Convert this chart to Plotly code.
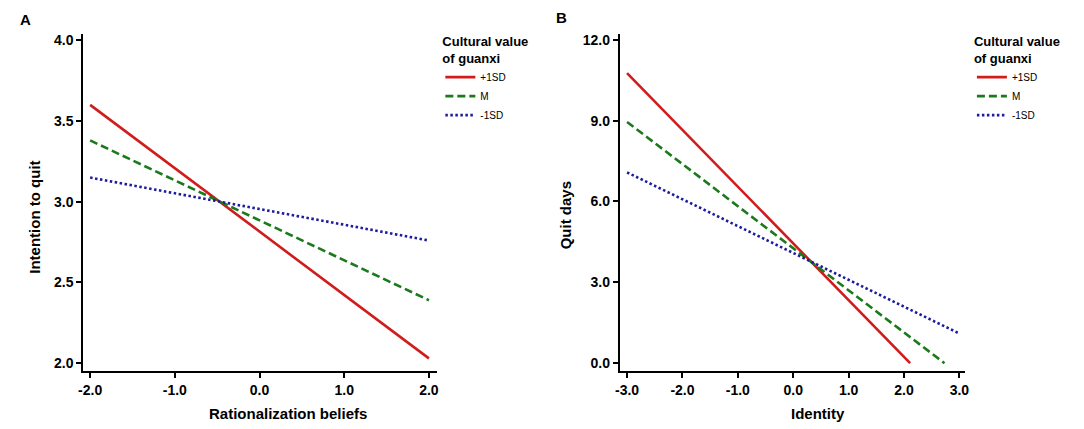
import plotly.graph_objects as go

# Panel A: simple slopes of rationalization beliefs on intention to quit
rb_x = [-2.0, 2.0]
a_plus = [3.60, 2.03]
a_mean = [3.38, 2.39]
a_minus = [3.15, 2.76]

# Panel B: simple slopes of identity on quit days (lines stop at 0)
id_x_plus = [-3.0, 2.11]
id_x_mean = [-3.0, 2.73]
id_x_minus = [-3.0, 3.0]
b_plus = [10.76, 0.0]
b_mean = [8.95, 0.0]
b_minus = [7.08, 1.10]

group_names = ["+1SD", "M", "-1SD"]
a_ticks = [-2.0, -1.0, 0.0, 1.0, 2.0]
a_yticks = [2.0, 2.5, 3.0, 3.5, 4.0]
b_ticks = [-3.0, -2.0, -1.0, 0.0, 1.0, 2.0, 3.0]
b_yticks = [0.0, 3.0, 6.0, 9.0, 12.0]

RED = "#d01c1c"
GREEN = "#1b7a1b"
BLUE = "#1c1c9e"
FONT = "Liberation Sans, Arial, sans-serif"
NARROW = "Liberation Sans Narrow, Arial Narrow, Liberation Sans, sans-serif"


def labels(vals):
    # plain hyphen for negatives, like the original
    return [f"{v:.1f}" for v in vals]


styles = [
    dict(color=RED, width=2.6, dash="solid"),
    dict(color=GREEN, width=2.6, dash="8px,4px"),
    dict(color=BLUE, width=2.6, dash="2.5px,2.5px"),
]

fig = go.Figure()

for name, ys, st in zip(group_names, [a_plus, a_mean, a_minus], styles):
    fig.add_trace(go.Scatter(x=rb_x, y=ys, mode="lines", name=name, line=st,
                             xaxis="x", yaxis="y", legend="legend"))

for name, xs, ys, st in zip(group_names, [id_x_plus, id_x_mean, id_x_minus],
                            [b_plus, b_mean, b_minus], styles):
    fig.add_trace(go.Scatter(x=xs, y=ys, mode="lines", name=name, line=st,
                             xaxis="x2", yaxis="y2", legend="legend2"))

axis_common = dict(
    showline=True, linecolor="black", linewidth=2,
    ticks="outside", ticklen=5, tickwidth=2, tickcolor="black",
    showgrid=False, zeroline=False,
    tickfont=dict(family=NARROW, size=14, color="black", weight="bold"),
)

y_bottom = 1 - 371 / 429
y_top = 1 - 32 / 429

fig.update_layout(
    width=1084, height=429,
    margin=dict(l=0, r=0, t=0, b=0),
    plot_bgcolor="white", paper_bgcolor="white",
    font=dict(family=FONT, color="black"),
    xaxis=dict(domain=[79 / 1084, 436 / 1084], range=[-2.08, 2.1],
               tickvals=a_ticks, ticktext=labels(a_ticks), anchor="y",
               **axis_common),
    yaxis=dict(domain=[y_bottom, y_top], range=[1.95, 4.04],
               tickvals=a_yticks, ticktext=labels(a_yticks), anchor="x",
               **axis_common),
    xaxis2=dict(domain=[620 / 1084, 968 / 1084], range=[-3.13, 3.1],
                tickvals=b_ticks, ticktext=labels(b_ticks), anchor="y2",
                **axis_common),
    yaxis2=dict(domain=[y_bottom, y_top], range=[-0.3, 12.22],
                tickvals=b_yticks, ticktext=labels(b_yticks), anchor="x2",
                **axis_common),
)

legend_common = dict(
    title=dict(text="Cultural value<br>of guanxi",
               font=dict(family=FONT, size=13, weight="bold")),
    font=dict(family=FONT, size=10),
    bgcolor="rgba(0,0,0,0)", itemwidth=30,
    xanchor="left", yanchor="top", y=1 - 27 / 429,
)
fig.update_layout(legend=dict(x=439 / 1084, **legend_common),
                  legend2=dict(x=975 / 1084, **legend_common))

annotations = [
    dict(text="A", x=21 / 1084, y=1 - 18 / 429),
    dict(text="B", x=561 / 1084, y=1 - 16 / 429),
    dict(text="Rationalization beliefs", x=285 / 1084, y=1 - 413 / 429),
    dict(text="Identity", x=820 / 1084, y=1 - 413 / 429),
    dict(text="Intention to quit", x=30 / 1084, y=1 - 216 / 429, textangle=-90),
    dict(text="Quit days", x=565 / 1084, y=1 - 214 / 429, textangle=-90),
]
for ann in annotations:
    ann.update(xref="paper", yref="paper", showarrow=False,
               xanchor="center", yanchor="middle",
               font=dict(family=FONT, size=15, color="black", weight="bold"))
fig.update_layout(annotations=annotations)

# drop the browser's default 8px body margin so the figure sits at 0,0
fig.write_html("out.html", config={"displayModeBar": False},
               post_script="document.body.style.margin='0';")
